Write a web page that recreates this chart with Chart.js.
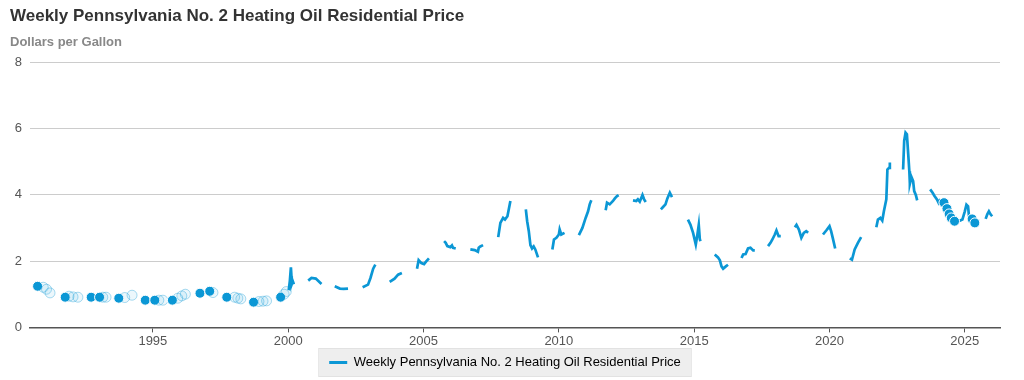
<!DOCTYPE html>
<html>
<head>
<meta charset="utf-8">
<script src="https://cdn.jsdelivr.net/npm/chart.js@4"></script>
<style>
  html, body { margin: 0; padding: 0; background: #fff; }
  #wrap { width: 1024px; height: 380px; position: relative; }
</style>
</head>
<body>
<div id="wrap"><canvas id="lineChart"></canvas></div>
<script>
const TITLE = "Weekly Pennsylvania No. 2 Heating Oil Residential Price"
const SUBTITLE = "Dollars per Gallon"
const SERIES_LABEL = "Weekly Pennsylvania No. 2 Heating Oil Residential Price"
const YEAR_TICKS = [1995, 2000, 2005, 2010, 2015, 2020, 2025]
const PRICE_TICKS = [0, 2, 4, 6, 8]
const BLUE = '#0b97d5'

// decimal year of each reading, null = gap between heating seasons
const dates = [
  1990.74, null, 1990.95, null, 1991.07, null, 1991.2, null,
  1991.76, null, 1991.9, null, 1992.05, null, 1992.23, null,
  1992.72, null, 1993.03, null, 1993.15, null, 1993.27, null,
  1993.74, null, 1993.96, null, 1994.23, null,
  1994.72, null, 1995.07, null, 1995.22, null, 1995.37, null,
  1995.72, null, 1995.92, null, 1996.07, null, 1996.2, null,
  1996.74, null, 1997.1, null, 1997.22, null,
  1997.73, null, 1998.02, null, 1998.14, null, 1998.25, null,
  1998.72, null, 1998.92, null, 1999.07, null, 1999.2, null,
  1999.72, null, 1999.85, null, 1999.93, null,
  2000.02, 2000.06, 2000.10, 2000.12, 2000.13, 2000.17, 2000.21, null,
  2000.74, 2000.86, 2001.02, 2001.23, null,
  2001.72, 2001.91, 2002.05, 2002.21, null,
  2002.75, 2002.95, 2003.04, 2003.14, 2003.22, null,
  2003.75, 2003.93, 2004.06, 2004.2, null,
  2004.76, 2004.82, 2004.92, 2005.02, 2005.1, 2005.2, null,
  2005.76, 2005.82, 2005.88, 2005.99, 2006.05, 2006.09, 2006.19, null,
  2006.73, 2006.89, 2007.01, 2007.04, 2007.1, 2007.2, null,
  2007.76, 2007.84, 2007.94, 2008.01, 2008.1, 2008.16, 2008.21, null,
  2008.78, 2008.83, 2008.89, 2008.95, 2009.01, 2009.07, 2009.13, 2009.23, null,
  2009.76, 2009.82, 2009.91, 2010.0, 2010.03, 2010.09, 2010.21, null,
  2010.74, 2010.87, 2010.99, 2011.08, 2011.14, 2011.2, null,
  2011.73, 2011.78, 2011.88, 2012.0, 2012.07, 2012.15, 2012.21, null,
  2012.74, 2012.86, 2012.92, 2012.99, 2013.09, 2013.15, 2013.21, null,
  2013.77, 2013.85, 2013.94, 2014.01, 2014.1, 2014.13, 2014.18, null,
  2014.77, 2014.86, 2014.96, 2015.06, 2015.12, 2015.17, 2015.21, 2015.24, null,
  2015.76, 2015.88, 2015.95, 2016.01, 2016.07, 2016.17, 2016.25, null,
  2016.75, 2016.81, 2016.9, 2016.99, 2017.08, 2017.18, 2017.24, null,
  2017.73, 2017.82, 2017.89, 2017.98, 2018.04, 2018.12, 2018.2, null,
  2018.72, 2018.78, 2018.87, 2018.96, 2019.05, 2019.14, 2019.21, null,
  2019.76, 2019.88, 2020.0, 2020.06, 2020.12, 2020.21, null,
  2020.75, 2020.83, 2020.93, 2021.05, 2021.17, null,
  2021.73, 2021.79, 2021.88, 2021.95, 2022.01, 2022.1, 2022.14, 2022.2, 2022.23, null,
  2022.72, 2022.76, 2022.81, 2022.86, 2022.91, 2022.95, 2022.97, 2023.03, 2023.09, 2023.13, 2023.19, 2023.24, null,
  2023.72, 2023.81, 2023.88, 2023.97, 2024.03, 2024.1, null,
  2024.23, null, 2024.34, null, 2024.42, null, 2024.5, null, 2024.62, null,
  2024.77, 2024.91, 2025.0, 2025.06, 2025.12, 2025.16, null,
  2025.27, null, 2025.37, null,
  2025.77, 2025.83, 2025.89, 2025.95, 2026.01
]

// dollars per gallon, same order as dates
const prices = [
  1.24, null, 1.21, null, 1.15, null, 1.04, null,
  0.91, null, 0.94, null, 0.92, null, 0.91, null,
  0.91, null, 0.91, null, 0.91, null, 0.91, null,
  0.88, null, 0.90, null, 0.97, null,
  0.82, null, 0.82, null, 0.82, null, 0.82, null,
  0.82, null, 0.88, null, 0.95, null, 1.00, null,
  1.03, null, 1.09, null, 1.05, null,
  0.91, null, 0.91, null, 0.88, null, 0.86, null,
  0.76, null, 0.78, null, 0.79, null, 0.80, null,
  0.91, null, 1.00, null, 1.08, null,
  1.12, 1.39, 1.81, 1.54, 1.30, 1.39, 1.30, null,
  1.41, 1.49, 1.47, 1.31, null,
  1.24, 1.17, 1.16, 1.17, null,
  1.21, 1.29, 1.49, 1.77, 1.89, null,
  1.37, 1.47, 1.59, 1.64, null,
  1.77, 2.03, 1.94, 1.91, 1.99, 2.08, null,
  2.60, 2.55, 2.45, 2.42, 2.47, 2.40, 2.38, null,
  2.35, 2.33, 2.28, 2.40, 2.44, 2.48, null,
  2.72, 3.15, 3.30, 3.25, 3.35, 3.60, 3.81, null,
  3.56, 3.20, 2.90, 2.48, 2.38, 2.44, 2.35, 2.11, null,
  2.35, 2.65, 2.70, 2.80, 2.95, 2.80, 2.85, null,
  2.78, 3.00, 3.30, 3.50, 3.71, 3.83, null,
  3.53, 3.76, 3.71, 3.81, 3.89, 3.96, 3.99, null,
  3.83, 3.81, 3.86, 3.79, 3.99, 3.86, 3.78, null,
  3.56, 3.63, 3.71, 3.89, 4.06, 4.01, 3.93, null,
  3.25, 3.10, 2.85, 2.50, 2.80, 3.09, 2.65, 2.60, null,
  2.20, 2.11, 2.02, 1.84, 1.77, 1.84, 1.89, null,
  2.09, 2.20, 2.21, 2.38, 2.40, 2.32, 2.32, null,
  2.45, 2.55, 2.65, 2.80, 2.92, 2.75, 2.75, null,
  3.02, 3.09, 2.95, 2.70, 2.85, 2.90, 2.85, null,
  2.80, 2.92, 3.05, 2.90, 2.70, 2.38, null,
  2.08, 2.04, 2.35, 2.55, 2.72, null,
  3.02, 3.25, 3.30, 3.22, 3.50, 3.86, 4.76, 4.81, 4.97, null,
  4.76, 5.62, 5.87, 5.82, 5.21, 4.71, 4.33, 4.53, 4.41, 4.11, 3.99, 3.83, null,
  4.16, 4.06, 3.96, 3.86, 3.76, 3.87, null,
  3.76, null, 3.58, null, 3.42, null, 3.30, null, 3.20, null,
  3.20, 3.25, 3.50, 3.70, 3.65, 3.30, null,
  3.27, null, 3.15, null,
  3.27, 3.41, 3.50, 3.41, 3.35
]

function buildPoints(){
    let lastX = dates[0]
    return dates.map((d, i) => {
        if (d !== null) lastX = d
        return { x: lastX, y: prices[i] }
    })
}

function isLonely(i){
    return prices[i] !== null && prices[i - 1] == null && prices[i + 1] == null
}

// first dot of an old season is solid, the later ones are pale
function isPale(i){
    if (dates[i] >= 2000) return false
    for (let j = i - 1; j >= 0; j--) {
        if (prices[j] !== null) return dates[i] - dates[j] < 0.3
    }
    return false
}

const legendBackground = {
    id: 'legendBackground',
    beforeDraw(chart){
        const boxes = chart.legend && chart.legend.legendHitBoxes
        if (!boxes || !boxes.length) return
        const b = boxes[0]
        const ctx = chart.ctx
        ctx.save()
        ctx.fillStyle = '#eeeeee'
        ctx.strokeStyle = '#e2e2e2'
        ctx.lineWidth = 1
        ctx.fillRect(b.left - 10, b.top - 7, b.width + 20, b.height + 14)
        ctx.strokeRect(b.left - 10.5, b.top - 7.5, b.width + 21, b.height + 15)
        ctx.restore()
    }
}

Chart.defaults.font.family = "'Liberation Sans', Arial, sans-serif"
Chart.defaults.animation = false

new Chart(document.getElementById('lineChart'), {
    type: 'line',
    data: {
        datasets: [{
            label: SERIES_LABEL,
            data: buildPoints(),
            borderColor: BLUE,
            backgroundColor: BLUE,
            borderWidth: 2.7,
            fill: false,
            spanGaps: false,
            tension: 0,
            pointRadius: ctx => isLonely(ctx.dataIndex) ? 5 : 0,
            pointHoverRadius: 0,
            pointBorderWidth: 1,
            pointBackgroundColor: ctx => isPale(ctx.dataIndex) ? 'rgba(11,151,213,0.08)' : BLUE,
            pointBorderColor: ctx => isPale(ctx.dataIndex) ? 'rgba(11,151,213,0.35)' : '#ffffff'
        }]
    },
    options: {
        responsive: true,
        maintainAspectRatio: false,
        layout: { padding: { left: 10, right: 24, top: 2, bottom: 1 } },
        plugins: {
            title: {
                display: true,
                text: TITLE,
                align: 'start',
                color: '#333333',
                font: { size: 17, weight: 'bold' },
                padding: { top: 4, bottom: 8 }
            },
            subtitle: {
                display: true,
                text: SUBTITLE,
                align: 'start',
                color: '#888888',
                font: { size: 13, weight: 'bold' },
                padding: { bottom: 12 }
            },
            legend: {
                display: true,
                position: 'bottom',
                labels: {
                    color: '#444444',
                    font: { size: 13 },
                    boxWidth: 18,
                    boxHeight: 3,
                    padding: 6,
                    generateLabels: chart => [{
                        text: SERIES_LABEL,
                        fillStyle: BLUE,
                        strokeStyle: BLUE,
                        lineWidth: 0,
                        datasetIndex: 0
                    }]
                }
            },
            tooltip: { enabled: false }
        },
        scales: {
            x: {
                type: 'linear',
                min: 1990.46,
                max: 2026.3,
                afterBuildTicks: scale => {
                    scale.ticks = YEAR_TICKS.map(v => ({ value: v }))
                },
                grid: {
                    drawOnChartArea: false,
                    drawTicks: true,
                    tickLength: 5,
                    color: '#555555'
                },
                border: { display: true, color: '#555555', width: 1.5 },
                ticks: {
                    color: '#555555',
                    font: { size: 13 },
                    padding: 1,
                    maxRotation: 0,
                    callback: v => String(v)
                }
            },
            y: {
                min: 0,
                max: 8,
                afterBuildTicks: scale => {
                    scale.ticks = PRICE_TICKS.map(v => ({ value: v }))
                },
                afterFit: scale => { scale.width = 20 },
                grid: { color: '#cccccc', drawTicks: false, lineWidth: 1 },
                border: { display: false },
                ticks: {
                    color: '#555555',
                    font: { size: 13 },
                    padding: 8
                }
            }
        }
    },
    plugins: [legendBackground]
});
</script>
</body>
</html>
